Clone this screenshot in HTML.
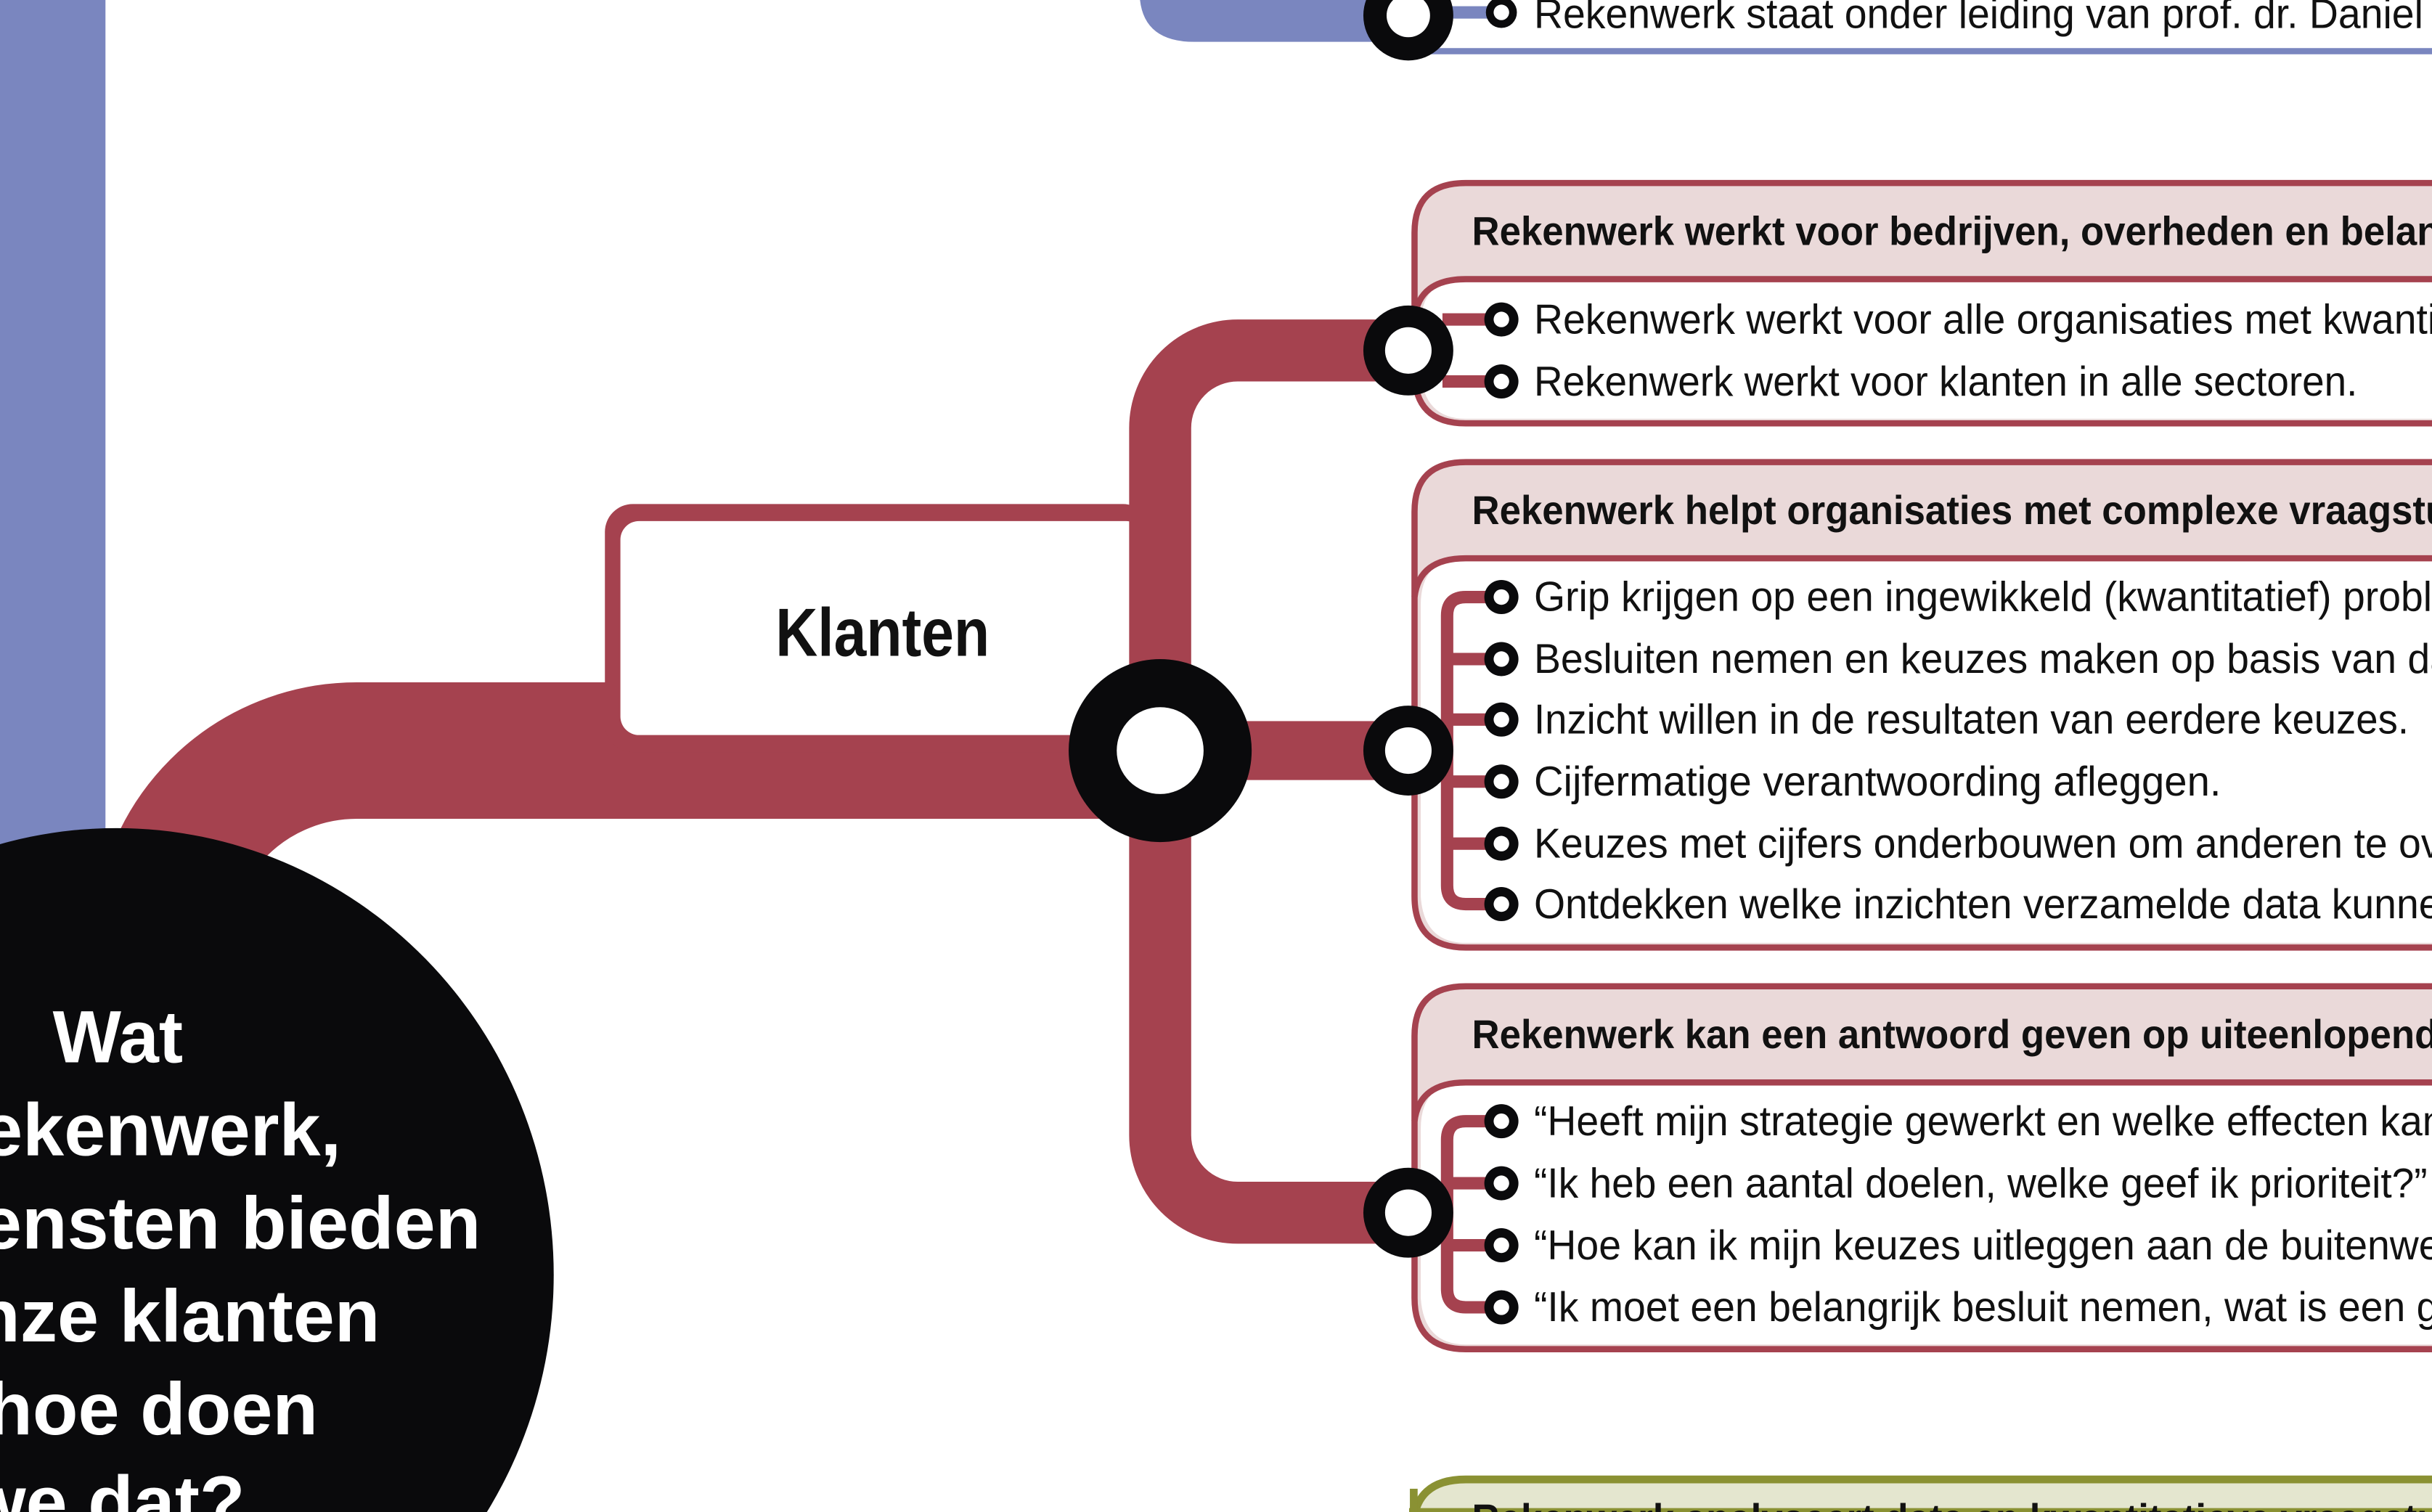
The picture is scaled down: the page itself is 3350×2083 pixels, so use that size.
<!DOCTYPE html>
<html><head><meta charset="utf-8"><style>
html,body{margin:0;padding:0;background:#fff;overflow:hidden;width:3350px;height:2083px}
svg{display:block;overflow:hidden}
text{font-family:"Liberation Sans Narrow","Liberation Sans",sans-serif}
.h{font-weight:bold;font-size:26px;fill:#111}
.i{font-size:27px;fill:#111}
</style></head><body>
<svg width="3350" height="2083" viewBox="0 0 1568 975" preserveAspectRatio="none" xmlns="http://www.w3.org/2000/svg">
<rect width="1568" height="975" fill="#fff"/>
<rect x="0" y="0" width="110" height="560" fill="#7a86bf"/>
<rect x="68" y="-40" width="300" height="700" rx="32" fill="#fff"/>
<path d="M735 -10 L735 0 Q738 27 770 27 L910 27 L910 -10 Z" fill="#7a86bf"/>
<rect x="910" y="31" width="660" height="4" fill="#7a86bf"/>
<rect x="930" y="4" width="30" height="8" fill="#7a86bf"/>
<circle cx="908" cy="10" r="29" fill="#0a0a0c"/><circle cx="908" cy="10" r="14" fill="#fff"/>
<circle cx="968" cy="8" r="10" fill="#0a0a0c"/><circle cx="968" cy="8" r="5" fill="#fff"/>
<g transform="translate(989,0) scale(0.96,1)"><text class="i" x="0" y="18">Rekenwerk staat onder leiding van prof. dr. Daniel van der Werf</text></g>

<path d="M104 700 L104 610 A126 126 0 0 1 230 484 L750 484" fill="none" stroke="#a5424f" stroke-width="88"/>
<rect x="390" y="325" width="352" height="160" rx="18" fill="#a5424f"/>
<rect x="400" y="336" width="338" height="138" rx="12" fill="#fff"/>
<text x="500" y="423" font-weight="bold" font-size="44" fill="#111" textLength="138" lengthAdjust="spacingAndGlyphs">Klanten</text>
<path d="M910 226 L798 226 A50 50 0 0 0 748 276 L748 732 A50 50 0 0 0 798 782 L910 782" fill="none" stroke="#a5424f" stroke-width="40"/>
<rect x="748" y="465" width="162" height="38" fill="#a5424f"/>
<circle cx="748" cy="484" r="59" fill="#0a0a0c"/><circle cx="748" cy="484" r="28" fill="#fff"/>

<path d="M1575 118 L945 118 Q912 118 912 150 L912 240 Q912 273 945 273 L1575 273" fill="#ead9d9" stroke="#a5424f" stroke-width="4"/>
<path d="M1575 180 L945 180 Q916 180 916 210 L916 240 Q918 270 945 270 L1575 270 Z" fill="#fff"/>
<path d="M1575 180 L945 180 Q915 180 912 205" fill="none" stroke="#a5424f" stroke-width="4"/>
<g transform="translate(949,0) scale(0.95,1)"><text class="h" x="0" y="158">Rekenwerk werkt voor bedrijven, overheden en belangenorganisaties</text></g>
<rect x="930" y="202" width="32" height="8" fill="#a5424f"/><rect x="930" y="242" width="32" height="8" fill="#a5424f"/>
<g transform="translate(989,0) scale(0.96,1)"><text class="i" x="0" y="215">Rekenwerk werkt voor alle organisaties met kwantitatieve vraagstukken.</text></g>
<text class="i" x="989" y="255" textLength="531" lengthAdjust="spacingAndGlyphs">Rekenwerk werkt voor klanten in alle sectoren.</text>

<path d="M1575 298 L945 298 Q912 298 912 330 L912 578 Q912 611 945 611 L1575 611" fill="#ead9d9" stroke="#a5424f" stroke-width="4"/>
<path d="M1575 360 L945 360 Q916 360 916 390 L916 578 Q918 608 945 608 L1575 608 Z" fill="#fff"/>
<path d="M1575 360 L945 360 Q915 360 912 385" fill="none" stroke="#a5424f" stroke-width="4"/>
<g transform="translate(949,0) scale(0.95,1)"><text class="h" x="0" y="338">Rekenwerk helpt organisaties met complexe vraagstukken die</text></g>
<path d="M962 385 L945 385 Q933 385 933 397 L933 571 Q933 583 945 583 L962 583" fill="none" stroke="#a5424f" stroke-width="8"/>
<rect x="930" y="421" width="32" height="8" fill="#a5424f"/><rect x="930" y="460" width="32" height="8" fill="#a5424f"/>
<rect x="930" y="500" width="32" height="8" fill="#a5424f"/><rect x="930" y="540" width="32" height="8" fill="#a5424f"/>
<g transform="translate(989,0) scale(0.96,1)">
<text class="i" x="0" y="394">Grip krijgen op een ingewikkeld (kwantitatief) probleem.</text>
<text class="i" x="0" y="434">Besluiten nemen en keuzes maken op basis van data.</text>
<text class="i" x="0" y="553">Keuzes met cijfers onderbouwen om anderen te overtuigen.</text>
<text class="i" x="0" y="592">Ontdekken welke inzichten verzamelde data kunnen bieden.</text>
</g>
<text class="i" x="989" y="473" textLength="564" lengthAdjust="spacingAndGlyphs">Inzicht willen in de resultaten van eerdere keuzes.</text>
<text class="i" x="989" y="513" textLength="443" lengthAdjust="spacingAndGlyphs">Cijfermatige verantwoording afleggen.</text>

<path d="M1575 636 L945 636 Q912 636 912 668 L912 837 Q912 870 945 870 L1575 870" fill="#ead9d9" stroke="#a5424f" stroke-width="4"/>
<path d="M1575 698 L945 698 Q916 698 916 728 L916 837 Q918 867 945 867 L1575 867 Z" fill="#fff"/>
<path d="M1575 698 L945 698 Q915 698 912 723" fill="none" stroke="#a5424f" stroke-width="4"/>
<g transform="translate(949,0) scale(0.95,1)"><text class="h" x="0" y="676">Rekenwerk kan een antwoord geven op uiteenlopende vragen</text></g>
<path d="M962 723 L945 723 Q933 723 933 735 L933 831 Q933 843 945 843 L962 843" fill="none" stroke="#a5424f" stroke-width="8"/>
<rect x="930" y="759" width="32" height="8" fill="#a5424f"/><rect x="930" y="799" width="32" height="8" fill="#a5424f"/>
<g transform="translate(989,0) scale(0.96,1)">
<text class="i" x="0" y="732">“Heeft mijn strategie gewerkt en welke effecten kan ik verwachten?”</text>
<text class="i" x="0" y="812">“Hoe kan ik mijn keuzes uitleggen aan de buitenwereld?”</text>
<text class="i" x="0" y="852">“Ik moet een belangrijk besluit nemen, wat is een goede keuze?”</text>
</g>
<text class="i" x="989" y="772" textLength="576" lengthAdjust="spacingAndGlyphs">“Ik heb een aantal doelen, welke geef ik prioriteit?”</text>

<path d="M1575 954 L945 954 Q912 954 911 985 L911 975 L1575 975 Z" fill="#e4e6cf" stroke="#8a9133" stroke-width="5"/>
<rect x="909" y="960" width="5" height="15" fill="#8a9133"/>
<g transform="translate(949,0) scale(0.95,1)"><text class="h" x="0" y="988">Rekenwerk analyseert data en kwantitatieve vraagstukken</text></g>

<g fill="#0a0a0c">
<circle cx="908" cy="226" r="29"/><circle cx="908" cy="484" r="29"/><circle cx="908" cy="782" r="29"/>
</g>
<g fill="#fff"><circle cx="908" cy="226" r="15"/><circle cx="908" cy="484" r="15"/><circle cx="908" cy="782" r="15"/></g>
<g fill="#0a0a0c">
<circle cx="968" cy="206" r="11"/><circle cx="968" cy="246" r="11"/>
<circle cx="968" cy="385" r="11"/><circle cx="968" cy="425" r="11"/><circle cx="968" cy="464" r="11"/><circle cx="968" cy="504" r="11"/><circle cx="968" cy="544" r="11"/><circle cx="968" cy="583" r="11"/>
<circle cx="968" cy="723" r="11"/><circle cx="968" cy="763" r="11"/><circle cx="968" cy="803" r="11"/><circle cx="968" cy="843" r="11"/>
</g>
<g fill="#fff">
<circle cx="968" cy="206" r="5"/><circle cx="968" cy="246" r="5"/>
<circle cx="968" cy="385" r="5"/><circle cx="968" cy="425" r="5"/><circle cx="968" cy="464" r="5"/><circle cx="968" cy="504" r="5"/><circle cx="968" cy="544" r="5"/><circle cx="968" cy="583" r="5"/>
<circle cx="968" cy="723" r="5"/><circle cx="968" cy="763" r="5"/><circle cx="968" cy="803" r="5"/><circle cx="968" cy="843" r="5"/>
</g>

<ellipse cx="75" cy="822" rx="282" ry="288" fill="#0a0a0c"/>
<g font-weight="bold" font-size="48" fill="#fff">
<text x="118" y="685" text-anchor="end" textLength="84" lengthAdjust="spacingAndGlyphs">Wat</text>
<text x="220" y="745" text-anchor="end">doet Rekenwerk,</text>
<text x="310" y="805" text-anchor="end">welke diensten bieden</text>
<text x="245" y="865" text-anchor="end">we onze klanten</text>
<text x="205" y="925" text-anchor="end">en hoe doen</text>
<text x="158" y="985" text-anchor="end">we dat?</text>
</g>
</svg>
</body></html>
